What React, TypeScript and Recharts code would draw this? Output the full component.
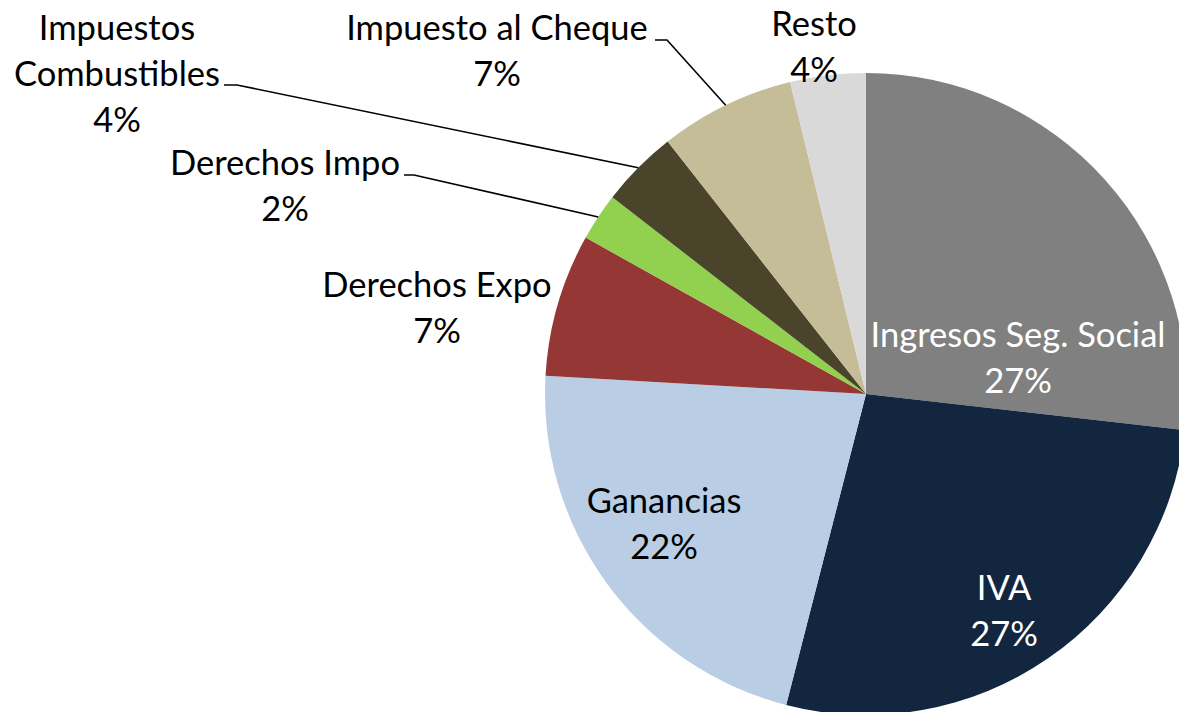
import { PieChart, Pie, Cell } from 'recharts';

const categories = [
  'Ingresos Seg. Social',
  'IVA',
  'Ganancias',
  'Derechos Expo',
  'Derechos Impo',
  'Impuestos Combustibles',
  'Impuesto al Cheque',
  'Resto',
];
const shares = [26.8, 27.2, 21.9, 7.2, 2.4, 3.9, 6.8, 3.8];
const labelLines = [
  ['Ingresos Seg. Social'],
  ['IVA'],
  ['Ganancias'],
  ['Derechos Expo'],
  ['Derechos Impo'],
  ['Impuestos', 'Combustibles'],
  ['Impuesto al Cheque'],
  ['Resto'],
];

const COLORS = ['#808080', '#12263f', '#b9cde5', '#953735', '#92d050', '#4a452a', '#c4bd97', '#d9d9d9'];
const TEXT_COLORS = ['#ffffff', '#ffffff', '#000000', '#000000', '#000000', '#000000', '#000000', '#000000'];

// label block placement relative to the pie centre (first line centre), plus leader elbow/stub
const LABEL_LAYOUT = [
  { dx: 152, dy: -61, leader: null },
  { dx: 138, dy: 192, leader: null },
  { dx: -202, dy: 105, leader: null },
  { dx: -429, dy: -111, leader: null },
  { dx: -581, dy: -233, leader: { ex: -452, ey: -219, sx: -462 } },
  { dx: -749, dy: -368, leader: { ex: -629, ey: -309, sx: -642 } },
  { dx: -369, dy: -368, leader: { ex: -199, ey: -354, sx: -211 } },
  { dx: -52, dy: -372, leader: null },
];

const data = categories.map((name, i) => ({ name, value: shares[i] }));

const RADIAN = Math.PI / 180;
const LINE_GAP = 46;
const FONT = "'Lato', 'Open Sans', sans-serif";

const renderLabel = (props: any) => {
  const { cx, cy, midAngle, outerRadius, percent, index } = props;
  const layout = LABEL_LAYOUT[index];
  const lines = [...labelLines[index], `${Math.round(percent * 100)}%`];
  const x = cx + layout.dx;
  const y0 = cy + layout.dy;
  let leader = null;
  if (layout.leader) {
    const px = cx + outerRadius * Math.cos(-midAngle * RADIAN);
    const py = cy + outerRadius * Math.sin(-midAngle * RADIAN);
    const l = layout.leader;
    leader = (
      <polyline
        points={`${px},${py} ${cx + l.ex},${cy + l.ey} ${cx + l.sx},${cy + l.ey}`}
        fill="none"
        stroke="#000"
        strokeWidth={1.6}
      />
    );
  }
  return (
    <g key={`lbl-${index}`}>
      {leader}
      {lines.map((t, j) => (
        <text
          key={j}
          x={x}
          y={y0 + j * LINE_GAP}
          textAnchor="middle"
          dominantBaseline="central"
          fill={TEXT_COLORS[index]}
          style={{ fontFamily: FONT, fontSize: 34.5 }}
        >
          {t}
        </text>
      ))}
    </g>
  );
};

const App = () => {
  return (
    <div style={{ position: 'absolute', top: 0, left: 0, width: 1179, height: 712, background: '#fff' }}>
      <PieChart width={1179} height={712} margin={{ top: 0, right: 0, bottom: 0, left: 0 }}>
        <Pie
          data={data}
          dataKey="value"
          nameKey="name"
          cx={866}
          cy={394}
          outerRadius={321}
          startAngle={90}
          endAngle={-270}
          stroke="none"
          label={renderLabel}
          labelLine={false}
          isAnimationActive={false}
        >
          {data.map((d, i) => (
            <Cell key={d.name} fill={COLORS[i]} />
          ))}
        </Pie>
      </PieChart>
    </div>
  );
};

export default App;
